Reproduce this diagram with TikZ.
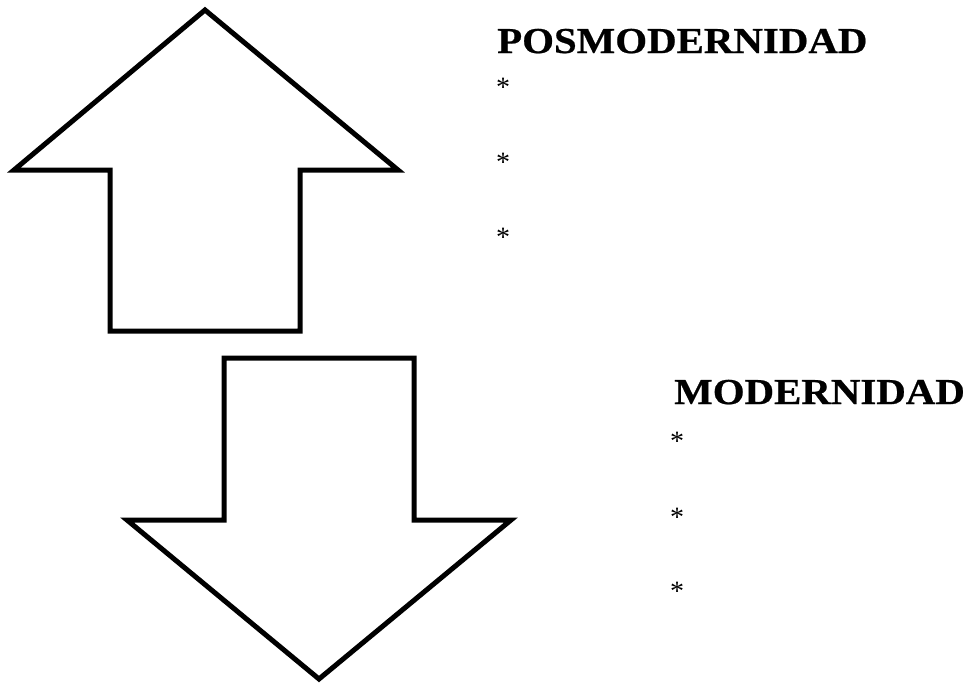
\documentclass[tikz,border=0pt]{standalone}
\usepackage{fontspec}
\setmainfont{Liberation Serif}
\newfontfamily\widebold[FakeStretch=1.12,FakeBold=0.6]{Liberation Serif Bold}
\begin{document}
\begin{tikzpicture}[x=1pt,y=-1pt,
  arrowshape/.style={draw=black,line width=5pt,line join=miter,fill=white},
  title/.style={anchor=base west,inner sep=0pt,font=\fontsize{36.5}{40}\widebold},
  bullet/.style={anchor=center,inner sep=0pt,font=\fontsize{28}{30}\selectfont}]
\useasboundingbox (0,0) rectangle (969,683);
% up arrow
\draw[arrowshape] (205,10) -- (398,170) -- (300,170) -- (300,331) -- (110,331) -- (110,170) -- (14,170) -- cycle;
% down arrow
\draw[arrowshape] (224,358) -- (414,358) -- (414,520) -- (511,520) -- (319,679) -- (127,520) -- (224,520) -- cycle;
% texts
\node[title] (posm) at (497,53) {POSMODERNIDAD};
\node[bullet] (p1) at (503,87) {*};
\node[bullet] (p2) at (503,162) {*};
\node[bullet] (p3) at (503,237) {*};
\node[title] (mod) at (674,404) {MODERNIDAD};
\node[bullet] (m1) at (677,441) {*};
\node[bullet] (m2) at (677,517) {*};
\node[bullet] (m3) at (677,591) {*};
\end{tikzpicture}
\end{document}
